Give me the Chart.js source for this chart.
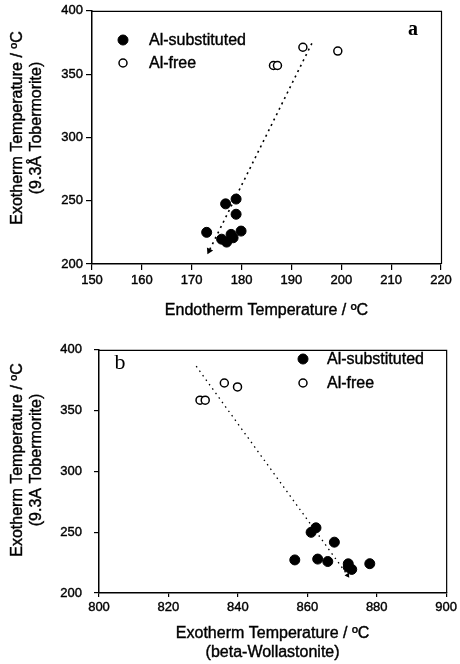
<!DOCTYPE html>
<html>
<head>
<meta charset="utf-8">
<script src="https://cdn.jsdelivr.net/npm/chart.js@4.4.1/dist/chart.umd.min.js"></script>
<style>
  html, body { margin: 0; padding: 0; background: #fff; }
  #wrap { position: relative; width: 460px; height: 664px; }
  canvas { position: absolute; left: 0; }
  #chart-a { top: 0; }
  #chart-b { top: 330px; }
</style>
</head>
<body>
<div id="wrap">
  <canvas id="chart-a" width="460" height="330"></canvas>
  <canvas id="chart-b" width="460" height="334"></canvas>
</div>
<script>
const SANS = '"Liberation Sans", Arial, sans-serif';
const SERIF = '"Liberation Serif", "Times New Roman", serif';

// panel a: endotherm vs exotherm (9.3A tobermorite)
const aSubX = [173.0, 176.8, 178.9, 178.9, 176.0, 177.0, 177.9, 178.3, 179.9];
const aSubY = [225.0, 247.5, 251.3, 239.3, 219.6, 217.3, 223.4, 220.7, 226.0];
const aFreeX = [186.4, 187.2, 192.3, 199.3];
const aFreeY = [356.8, 356.8, 371.2, 368.2];
const aTrendX = [194.1, 173.5];
const aTrendY = [374.3, 210.5];

// panel b: beta-wollastonite exotherm vs tobermorite exotherm
const bSubX = [856.4, 861.1, 862.5, 863.0, 865.9, 867.8, 871.8, 871.8, 872.8, 878.0];
const bSubY = [227.2, 249.9, 253.6, 227.9, 225.9, 241.8, 224.0, 221.3, 219.4, 224.1];
const bFreeX = [829.1, 830.6, 836.1, 839.9];
const bFreeY = [358.6, 358.6, 372.7, 369.5];
const bTrendX = [828.0, 871.6];
const bTrendY = [386.5, 214.6];

const LEGEND_LABELS = ['Al-substituted', 'Al-free'];

const pts = (xs, ys) => xs.map((x, i) => ({ x, y: ys[i] }));

// scanned text looks a bit heavier than plain Arial
function heavyText(ctx, text, x, y) {
  ctx.fillText(text, x, y);
  ctx.strokeText(text, x, y);
}

const panelExtras = {
  id: 'panelExtras',
  afterDraw(chart, args, o) {
    const { ctx, chartArea: ca } = chart;
    ctx.save();
    // top and right frame
    ctx.strokeStyle = '#000';
    ctx.lineWidth = 1.2;
    ctx.beginPath();
    ctx.moveTo(ca.left, ca.top + 0.5);
    ctx.lineTo(ca.right + 0.5, ca.top + 0.5);
    ctx.lineTo(ca.right + 0.5, ca.bottom);
    ctx.stroke();

    ctx.fillStyle = '#000';
    ctx.lineWidth = 0.4;
    ctx.font = `16px ${SANS}`;
    ctx.textAlign = 'center';
    ctx.textBaseline = 'middle';

    // rotated y title, two lines
    o.yTitle.forEach((line, i) => {
      ctx.save();
      ctx.translate(o.yTitleX[i], o.yTitleY);
      ctx.rotate(-Math.PI / 2);
      heavyText(ctx, line, 0, 0);
      ctx.restore();
    });

    // x title
    const xMid = (ca.left + ca.right) / 2;
    o.xTitle.forEach((line, i) => heavyText(ctx, line, xMid, o.xTitleY + i * 19));

    // legend
    const ds = chart.data.datasets;
    LEGEND_LABELS.forEach((label, i) => {
      const d = ds[i];
      const y = o.legendY + i * o.legendGap;
      ctx.beginPath();
      ctx.arc(o.legendX, y, d.pointRadius, 0, Math.PI * 2);
      ctx.fillStyle = d.backgroundColor;
      ctx.fill();
      ctx.lineWidth = d.borderWidth;
      ctx.strokeStyle = d.borderColor;
      ctx.stroke();
      ctx.fillStyle = '#000';
      ctx.lineWidth = 0.4;
      ctx.textAlign = 'left';
      heavyText(ctx, label, o.legendTextX, y + 1);
    });

    // panel tag
    ctx.font = o.tagFont;
    ctx.textAlign = 'center';
    ctx.fillText(o.tag, o.tagX, o.tagY);
    ctx.restore();
  },
};

function makeChart(canvas, cfg) {
  const tickFont = { family: SANS, size: 13 };
  return new Chart(canvas.getContext('2d'), {
    type: 'scatter',
    data: {
      datasets: [
        {
          label: 'Al-substituted',
          data: pts(cfg.subX, cfg.subY),
          pointRadius: 5,
          backgroundColor: '#000',
          borderColor: '#000',
          borderWidth: 1,
        },
        {
          label: 'Al-free',
          data: pts(cfg.freeX, cfg.freeY),
          pointRadius: 4,
          backgroundColor: '#fff',
          borderColor: '#000',
          borderWidth: 1.5,
        },
        {
          label: 'trend',
          data: pts(cfg.trendX, cfg.trendY),
          showLine: true,
          borderColor: '#000',
          backgroundColor: '#000',
          borderWidth: cfg.trendWidth,
          borderDash: cfg.trendDash,
          pointRadius: [0, cfg.arrowSize],
          pointStyle: 'triangle',
          pointRotation: [0, cfg.arrowRot],
          pointBorderWidth: 0,
        },
      ],
    },
    options: {
      responsive: false,
      animation: false,
      devicePixelRatio: 1,
      layout: { padding: cfg.padding },
      plugins: {
        legend: { display: false },
        tooltip: { enabled: false },
        panelExtras: cfg.extras,
      },
      scales: {
        x: {
          type: 'linear',
          min: cfg.xMin,
          max: cfg.xMax,
          ticks: {
            stepSize: cfg.xStep,
            color: '#000',
            font: tickFont,
            padding: 3,
            maxRotation: 0,
            autoSkip: false,
            textStrokeColor: '#000',
            textStrokeWidth: 0.4,
          },
          grid: { drawOnChartArea: false, tickLength: cfg.xTick, color: '#000', lineWidth: 1.2 },
          border: { display: true, color: '#000', width: 1.5 },
          afterFit(s) { s.height = cfg.xHeight; },
        },
        y: {
          type: 'linear',
          min: 200,
          max: 400,
          ticks: {
            stepSize: 50,
            color: '#000',
            font: tickFont,
            padding: cfg.yPad,
            textStrokeColor: '#000',
            textStrokeWidth: 0.4,
          },
          grid: { drawOnChartArea: false, tickLength: cfg.yTick, color: '#000', lineWidth: 1.2 },
          border: { display: true, color: '#000', width: 1.5 },
          afterFit(s) { s.width = cfg.yWidth; },
        },
      },
    },
    plugins: [panelExtras],
  });
}

makeChart(document.getElementById('chart-a'), {
  subX: aSubX, subY: aSubY, freeX: aFreeX, freeY: aFreeY, trendX: aTrendX, trendY: aTrendY,
  trendWidth: 1.6, trendDash: [2, 4], arrowSize: 4, arrowRot: 206,
  padding: { left: 0, top: 10, right: 19, bottom: 0 },
  xMin: 150, xMax: 220, xStep: 10, xTick: 6, xHeight: 66,
  yPad: 3, yTick: 6, yWidth: 92,
  extras: {
    xTitle: ['Endotherm Temperature / ºC'], xTitleY: 311,
    yTitle: ['Exotherm Temperature / ºC', '(9.3Å Tobermorite)'],
    yTitleX: [18, 37], yTitleY: 128,
    legendX: 123, legendY: 40, legendGap: 23, legendTextX: 149,
    tag: 'a', tagFont: `bold 20px ${SERIF}`, tagX: 413, tagY: 30,
  },
});

makeChart(document.getElementById('chart-b'), {
  subX: bSubX, subY: bSubY, freeX: bFreeX, freeY: bFreeY, trendX: bTrendX, trendY: bTrendY,
  trendWidth: 1.3, trendDash: [1.5, 4], arrowSize: 3, arrowRot: 145,
  padding: { left: 0, top: 12, right: 13, bottom: 0 },
  xMin: 800, xMax: 900, xStep: 20, xTick: 4, xHeight: 71,
  yPad: 12, yTick: 5, yWidth: 99,
  extras: {
    xTitle: ['Exotherm Temperature / ºC', '(beta-Wollastonite)'], xTitleY: 304,
    yTitle: ['Exotherm Temperature / ºC', '(9.3A Tobermorite)'],
    yTitleX: [18, 37], yTitleY: 130,
    legendX: 303, legendY: 29, legendGap: 24, legendTextX: 327,
    tag: 'b', tagFont: `22px ${SERIF}`, tagX: 120, tagY: 33,
  },
});
</script>
</body>
</html>
